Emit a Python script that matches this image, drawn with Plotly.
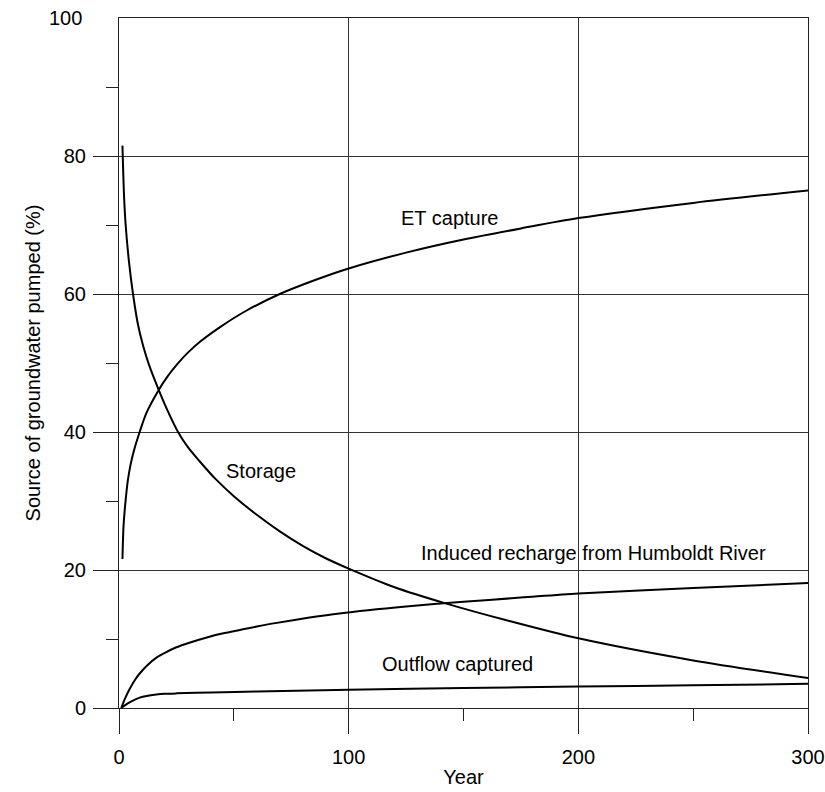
import plotly.graph_objects as go

# ---- data ----
storage_year = [1.5, 2.2, 2.9, 4.4, 6.1, 8.3, 10.5, 13.0, 17.3, 21.0, 25.7, 30, 35, 42, 50, 60, 70, 80, 90, 100, 120, 141.8, 170, 200, 250, 300]
storage_pct = [81.5, 74.2, 70.0, 64.5, 60.0, 55.5, 52.5, 49.8, 46.1, 43.2, 40.0, 37.8, 35.8, 33.2, 30.7, 28.0, 25.6, 23.5, 21.7, 20.2, 17.5, 15.2, 12.6, 10.1, 6.9, 4.35]

et_year = [1.5, 2.0, 3.0, 3.9, 5.0, 6.5, 9.0, 12.0, 17.3, 21, 25, 30, 35, 44, 55, 70, 86, 100, 125, 150, 175, 200, 250, 300]
et_pct = [21.6, 26.5, 30.5, 33.1, 35.2, 37.3, 40.0, 42.8, 46.1, 48.0, 49.7, 51.5, 53.0, 55.2, 57.5, 60.0, 62.1, 63.7, 66.0, 67.9, 69.5, 71.0, 73.2, 75.0]

induced_year = [1, 2.5, 4.7, 7, 9, 12, 16.3, 20, 25, 31, 39, 45, 54, 60, 68, 83, 96, 125, 150, 175, 200, 250, 300]
induced_pct = [0, 1.3, 2.8, 4.1, 5.0, 6.1, 7.3, 8.0, 8.8, 9.5, 10.3, 10.8, 11.4, 11.8, 12.3, 13.1, 13.7, 14.7, 15.4, 16.0, 16.6, 17.4, 18.1]

outflow_year = [1, 3, 5, 9, 12, 16.3, 20, 25, 40, 60, 83, 100, 150, 200, 250, 300]
outflow_pct = [0, 0.5, 0.9, 1.5, 1.75, 1.95, 2.05, 2.12, 2.26, 2.4, 2.55, 2.65, 2.9, 3.1, 3.3, 3.5]

x_ticks = [0, 100, 200, 300]
x_minor = [50, 150, 250]
y_ticks = [0, 20, 40, 60, 80]
y_minor = [10, 30, 50, 70, 90]

labels = [
    ("ET capture", 144, 71.0),
    ("Storage", 62, 34.4),
    ("Induced recharge from Humboldt River", 206.4, 22.5),
    ("Outflow captured", 147.5, 6.4),
]

FONT = "Liberation Sans, Arial, sans-serif"
fig = go.Figure()
for xs, ys in [(storage_year, storage_pct), (et_year, et_pct),
               (induced_year, induced_pct), (outflow_year, outflow_pct)]:
    fig.add_trace(go.Scatter(x=xs, y=ys, mode="lines",
                             line=dict(color="black", width=2, shape="spline", smoothing=0.8),
                             showlegend=False, hoverinfo="skip"))

for text, xv, yv in labels:
    fig.add_annotation(x=xv, y=yv, xref="x", yref="y", text=text, showarrow=False,
                       xanchor="center", yanchor="middle",
                       font=dict(family=FONT, size=20, color="black"))

# top "100" label (no outside tick at the top)
fig.add_annotation(x=0, y=100, xref="paper", yref="y", text="100", showarrow=False,
                   xanchor="right", yanchor="middle", xshift=-35,
                   font=dict(family=FONT, size=20, color="black"))

axis_common = dict(showline=True, linecolor="#222", linewidth=1, mirror=True,
                   ticks="outside", ticklen=25, tickwidth=1, tickcolor="#222",
                   showgrid=True, gridcolor="#333", gridwidth=1, zeroline=False,
                   tickfont=dict(family=FONT, size=20, color="black"),
                   automargin=False)

fig.update_xaxes(range=[0, 300], tickmode="array", tickvals=x_ticks,
                 ticktext=[str(v) for v in x_ticks], ticklabelstandoff=6,
                 minor=dict(tickmode="array", tickvals=x_minor, ticks="outside",
                            ticklen=12, tickwidth=1, tickcolor="#222", showgrid=False),
                 title=dict(text="Year", font=dict(family=FONT, size=20, color="black"), standoff=2),
                 **axis_common)
fig.update_yaxes(range=[0, 100], tickmode="array", tickvals=y_ticks,
                 ticktext=[str(v) for v in y_ticks], ticklabelstandoff=3,
                 minor=dict(tickmode="array", tickvals=y_minor, ticks="outside",
                            ticklen=12, tickwidth=1, tickcolor="#222", showgrid=False),
                 title=dict(text="Source of groundwater pumped (%)",
                            font=dict(family=FONT, size=20, color="black"), standoff=17),
                 **axis_common)

fig.update_layout(width=825, height=792,
                  margin=dict(l=119, r=17, t=18, b=84, pad=0),
                  plot_bgcolor="white", paper_bgcolor="white",
                  font=dict(family=FONT, size=20, color="black"))

# remove the default 8px page margin so the figure fills the window exactly
fig.write_html("out.html", config={"displayModeBar": False},
               post_script="document.body.style.margin='0';document.body.style.overflow='hidden';")
